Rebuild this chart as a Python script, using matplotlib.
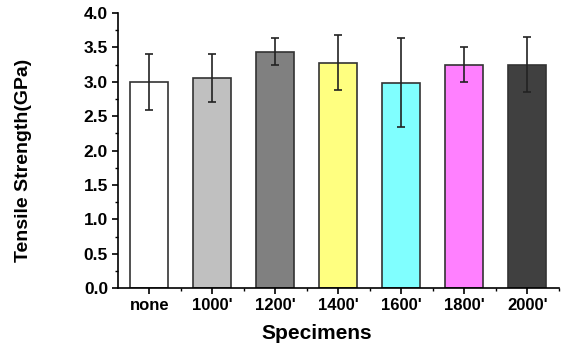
import matplotlib
matplotlib.use("Agg")
import matplotlib.pyplot as plt
from matplotlib.ticker import MultipleLocator

specimens = ["none", "1000'", "1200'", "1400'", "1600'", "1800'", "2000'"]
strength = [3.00, 3.05, 3.44, 3.28, 2.99, 3.25, 3.25]
errors = [0.41, 0.35, 0.20, 0.40, 0.65, 0.25, 0.40]
colors = ["#FFFFFF", "#C0C0C0", "#808080", "#FFFF80", "#80FFFF", "#FF80FF", "#404040"]


def main():
  plt.rcParams["font.family"] = ["Liberation Sans", "DejaVu Sans"]
  fig = plt.figure(figsize=(5.61, 3.45), dpi=100)
  ax = fig.add_axes([0.210, 0.165, 0.786, 0.797])

  x = list(range(len(specimens)))
  ax.bar(x, strength, width=0.6, color=colors, edgecolor="#333333", linewidth=1.2,
         yerr=errors, capsize=3, error_kw=dict(ecolor="#222222", elinewidth=1.2, capthick=1.2))

  ax.set_xlim(-0.5, 6.5)
  ax.set_ylim(0, 4.0)
  ax.set_xticks(x)
  ax.set_xticklabels(specimens, fontweight="bold", fontsize=12)
  ax.set_xticks([i + 0.5 for i in x], minor=True)
  ax.yaxis.set_major_locator(MultipleLocator(0.5))
  ax.yaxis.set_minor_locator(MultipleLocator(0.25))
  for lab in ax.get_yticklabels():
    lab.set_fontweight("bold")
    lab.set_fontsize(12.5)

  ax.spines["top"].set_visible(False)
  ax.spines["right"].set_visible(False)
  for s in ("left", "bottom"):
    ax.spines[s].set_linewidth(1.2)
  ax.tick_params(which="major", direction="out", length=4, width=1.2, pad=3)
  ax.tick_params(which="minor", direction="out", length=2.5, width=1)

  ax.set_xlabel("Specimens", fontweight="bold", fontsize=15)
  ax.xaxis.set_label_coords(0.452, -0.13)
  ax.set_ylabel("Tensile Strength(GPa)", fontweight="bold", fontsize=14)
  ax.yaxis.set_label_coords(-0.195, 0.465)

  fig.savefig("out.png", dpi=100)


if __name__ == "__main__":
  main()
